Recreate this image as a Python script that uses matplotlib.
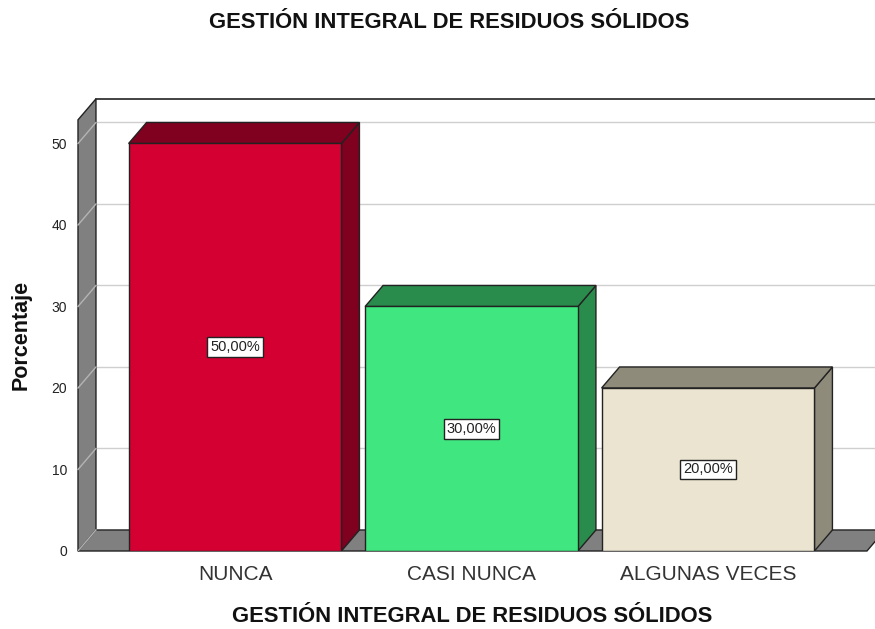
import matplotlib
matplotlib.use("Agg")
import matplotlib.pyplot as plt
from matplotlib.patches import Polygon, Rectangle

categories = ["NUNCA", "CASI NUNCA", "ALGUNAS VECES"]
percentages = [50.0, 30.0, 20.0]
value_labels = ["50,00%", "30,00%", "20,00%"]
yticks = [0, 10, 20, 30, 40, 50]

front_colors = ["#d50032", "#40e680", "#ebe4d0"]
shade_colors = ["#7f001f", "#2a8c4c", "#8f8b7b"]

TITLE = "GESTIÓN INTEGRAL DE RESIDUOS SÓLIDOS"

plt.rcParams["font.family"] = ["Liberation Sans", "DejaVu Sans"]

# 3D offsets (data units)
DX, DY = 0.076, 2.58
WIDTH = 0.9
X0, X1 = -0.664, 2.672   # front-left / front-right of the floor
TOP = 52.9               # front top of the walls

fig = plt.figure(figsize=(8.75, 6.29), dpi=100)
ax = fig.add_axes([78 / 875, 78 / 629, 797 / 875, 452 / 629])
ax.set_xlim(X0, 2.706)
ax.set_ylim(0, 55.46)
for s in ax.spines.values():
    s.set_visible(False)

edge = "#222222"

# back wall
ax.add_patch(Rectangle((X0 + DX, DY), 3.2, TOP, facecolor="white",
                       edgecolor="none", zorder=0, clip_on=False))
ax.plot([X0 + DX, 2.8], [TOP + DY, TOP + DY], color=edge, lw=1.2,
        zorder=1, clip_on=False)
for v in yticks[1:]:
    ax.plot([X0 + DX, 2.8], [v + DY, v + DY], color="#cfcfcf", lw=1,
            zorder=1, clip_on=False)

# left wall
ax.add_patch(Polygon([(X0, 0), (X0 + DX, DY), (X0 + DX, TOP + DY), (X0, TOP)],
                     closed=True, facecolor="#808080", edgecolor=edge,
                     lw=1, zorder=1, clip_on=False))
for v in yticks:
    ax.plot([X0, X0 + DX], [v, v + DY], color="#b4b4b4", lw=1,
            zorder=2, clip_on=False)

# floor
ax.add_patch(Polygon([(X0, 0), (X1, 0), (X1 + DX, DY), (X0 + DX, DY)],
                     closed=True, facecolor="#808080", edgecolor=edge,
                     lw=1, zorder=2, clip_on=False))
ax.plot([X0, X0 + DX], [0, DY], color="#b4b4b4", lw=1, zorder=3)

# bars
for i, (v, fc, sc, lab) in enumerate(zip(percentages, front_colors,
                                          shade_colors, value_labels)):
    l, r = i - WIDTH / 2, i + WIDTH / 2
    ax.add_patch(Polygon([(r, 0), (r + DX, DY), (r + DX, v + DY), (r, v)],
                         closed=True, facecolor=sc, edgecolor=edge, lw=1,
                         zorder=4))
    ax.add_patch(Polygon([(l, v), (r, v), (r + DX, v + DY), (l + DX, v + DY)],
                         closed=True, facecolor=sc, edgecolor=edge, lw=1,
                         zorder=4))
    ax.add_patch(Rectangle((l, 0), WIDTH, v, facecolor=fc, edgecolor=edge,
                           lw=1, zorder=5))
    ax.text(i, v / 2, lab, ha="center", va="center", fontsize=10.5,
            color="#222222", zorder=6,
            bbox=dict(boxstyle="square,pad=0.2", facecolor="white",
                      edgecolor="#222222", lw=1))

ax.set_xticks(range(len(categories)))
ax.set_xticklabels(categories, fontsize=15, color="#333333")
ax.set_yticks(yticks)
ax.set_yticklabels([str(t) for t in yticks], fontsize=10, color="#222222")
ax.tick_params(axis="x", length=0, pad=10)
ax.tick_params(axis="y", length=0, pad=8)

ax.set_xlabel(TITLE, fontsize=15.8, fontweight="bold", color="#111111")
ax.xaxis.set_label_coords(0.494, -0.122)
ax.set_ylabel("Porcentaje", fontsize=15.5, fontweight="bold", color="#111111")
ax.yaxis.set_label_coords(-0.058, 0.478)

fig.text(449 / 875, 1 - 22 / 629, TITLE, ha="center", va="center",
         fontsize=15.8, fontweight="bold", color="#111111")

fig.savefig("out.png", dpi=100, facecolor="white")
